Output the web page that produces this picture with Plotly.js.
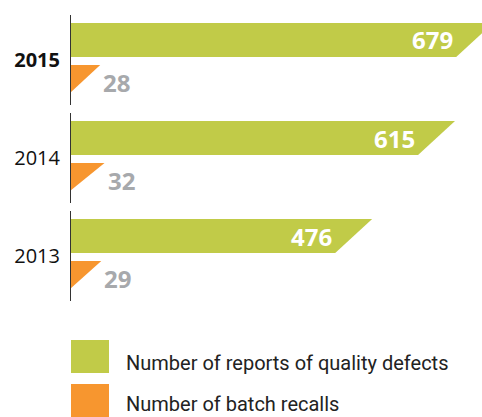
<!DOCTYPE html>
<html>
<head>
<meta charset="utf-8">
<script src="https://cdn.plot.ly/plotly-3.0.1.min.js"></script>
<style>
html,body{margin:0;padding:0;background:#fff;}
#chart{width:482px;height:417px;}
</style>
</head>
<body>
<div id="chart"></div>
<script>
// ---- data ----
var years = ['2013', '2014', '2015'];
var yearLabels = ['2013', '2014', '<b>2015</b>'];
var qualityDefects = [476, 615, 679];
var batchRecalls = [29, 32, 28];
var seriesNames = ['Number of reports of quality defects', 'Number of batch recalls'];

// ---- style ----
var GREEN = '#c1cb48';
var ORANGE = '#f7962f';
var GREY = '#a7a9ac';
var SLANT = 31;        // half horizontal run of slanted bar end (data units)
var TRI = 1.81;        // triangle width per recall (data units)
var G_BOT = 0.031, G_TOP = 0.377;   // green bar band relative to group centre
var O_TOP = -0.05, O_BOT = -0.337;  // orange triangle band

var traces = [];
var annotations = [];
var shapes = [];

years.forEach(function (yr, i) {
  var c = i;
  var v = qualityDefects[i];
  traces.push({
    type: 'scatter', mode: 'lines', fill: 'toself',
    x: [0, v - SLANT, v + SLANT, 0, 0],
    y: [c + G_BOT, c + G_BOT, c + G_TOP, c + G_TOP, c + G_BOT],
    fillcolor: GREEN, line: {width: 0, color: GREEN},
    hoverinfo: 'skip', showlegend: false
  });
  var r = batchRecalls[i];
  traces.push({
    type: 'scatter', mode: 'lines', fill: 'toself',
    x: [0, r * TRI, 0, 0],
    y: [c + O_TOP, c + O_TOP, c + O_BOT, c + O_TOP],
    fillcolor: ORANGE, line: {width: 0, color: ORANGE},
    hoverinfo: 'skip', showlegend: false
  });
  annotations.push({
    x: v, y: c + (G_BOT + G_TOP) / 2, xref: 'x', yref: 'y',
    xanchor: 'right', yanchor: 'middle', xshift: -20, showarrow: false,
    text: '<b>' + v + '</b>',
    font: {family: 'Open Sans, sans-serif', size: 24, color: '#ffffff'}
  });
  annotations.push({
    x: r * TRI, y: c - 0.23, xref: 'x', yref: 'y',
    xanchor: 'left', yanchor: 'middle', xshift: 1, showarrow: false,
    text: '<b>' + r + '</b>',
    font: {family: 'Open Sans, sans-serif', size: 24, color: GREY}
  });
  shapes.push({
    type: 'line', xref: 'x', yref: 'y', x0: 0, x1: 0,
    y0: c - 0.46, y1: c + 0.46, layer: 'above',
    line: {color: '#333333', width: 2}
  });
});

// legend (custom, large swatches)
var legendColors = [GREEN, ORANGE];
var legendTop = [340, 384];
var legendTextOffset = [23, 20];
legendColors.forEach(function (col, k) {
  shapes.push({
    type: 'rect', xref: 'paper', yref: 'paper',
    x0: (71 - 70) / 412, x1: (109 - 70) / 412,
    y0: (310 - legendTop[k]) / 300, y1: (310 - legendTop[k] - 33) / 300,
    fillcolor: col, line: {width: 0}
  });
  annotations.push({
    xref: 'paper', yref: 'paper',
    x: (124 - 70) / 412, y: (310 - legendTop[k] - legendTextOffset[k]) / 300,
    xanchor: 'left', yanchor: 'middle', showarrow: false,
    text: seriesNames[k],
    font: {family: 'Roboto, sans-serif', size: 20, color: '#222222'}
  });
});

var layout = {
  width: 482, height: 417,
  margin: {l: 70, r: 0, t: 10, b: 107, pad: 0},
  paper_bgcolor: '#ffffff', plot_bgcolor: '#ffffff',
  showlegend: false,
  xaxis: {range: [0, 691.3], visible: false, fixedrange: true},
  yaxis: {
    range: [-0.551, 2.510], tickvals: [0, 1, 2], ticktext: yearLabels,
    showgrid: false, zeroline: false, showline: false, ticks: '',
    ticklabelstandoff: 9,
    tickfont: {family: 'Open Sans, sans-serif', size: 20, color: '#111111'},
    fixedrange: true
  },
  shapes: shapes,
  annotations: annotations
};

Plotly.newPlot('chart', traces, layout, {displayModeBar: false, staticPlot: true});
</script>
</body>
</html>
